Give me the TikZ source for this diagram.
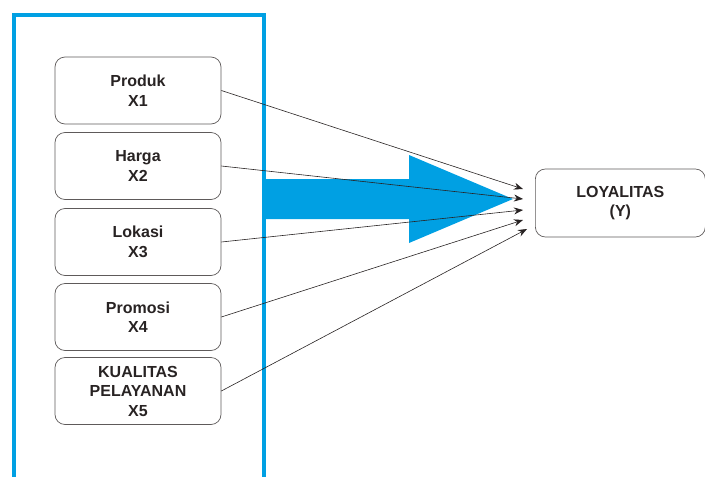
\documentclass[tikz,border=0pt]{standalone}
\usepackage{fontspec}
\setmainfont{Liberation Sans}
\usetikzlibrary{arrows.meta}
\definecolor{framblue}{RGB}{0,160,227}
\definecolor{linegray}{RGB}{40,35,35}

\begin{document}
\begin{tikzpicture}[x=1pt, y=-1pt,
    varbox/.style={draw=linegray!75, line width=0.7pt, rounded corners=10pt, minimum width=166pt, minimum height=67pt, align=center, font=\fontsize{16}{19.5}\selectfont\bfseries, text=linegray},
    link/.style={draw=linegray, line width=0.6pt, -{Stealth[length=9pt, width=7pt]}}]
    \useasboundingbox (0,0) rectangle (705,477);
    \clip (0,0) rectangle (705,477);

    % frame and big arrow
    \draw[framblue, line width=4pt] (14,500) -- (14,15) -- (264,15) -- (264,500);
    \fill[framblue] (262,179) -- (409,179) -- (409,155) -- (513,199) -- (409,243) -- (409,219) -- (262,219) -- cycle;

    % variables
    \node[varbox] (x1) at (138,90.5) {Produk\\X1};
    \node[varbox] (x2) at (138,166) {Harga\\X2};
    \node[varbox] (x3) at (138,242) {Lokasi\\X3};
    \node[varbox] (x4) at (138,317) {Promosi\\X4};
    \node[varbox] (x5) at (138,391) {KUALITAS\\PELAYANAN\\X5};

    \node[varbox, minimum width=170pt, minimum height=68pt, anchor=west] (y) at (535,203) {LOYALITAS\\(Y)};

    % ends of the links
    \coordinate (t1) at (523,189);
    \coordinate (t2) at (523,199);
    \coordinate (t3) at (523,210);
    \coordinate (t4) at (523,220);
    \coordinate (t5) at (527,229);

    \foreach \i in {1,...,5}
        \draw[link] (x\i.east) -- (t\i);
\end{tikzpicture}
\end{document}
